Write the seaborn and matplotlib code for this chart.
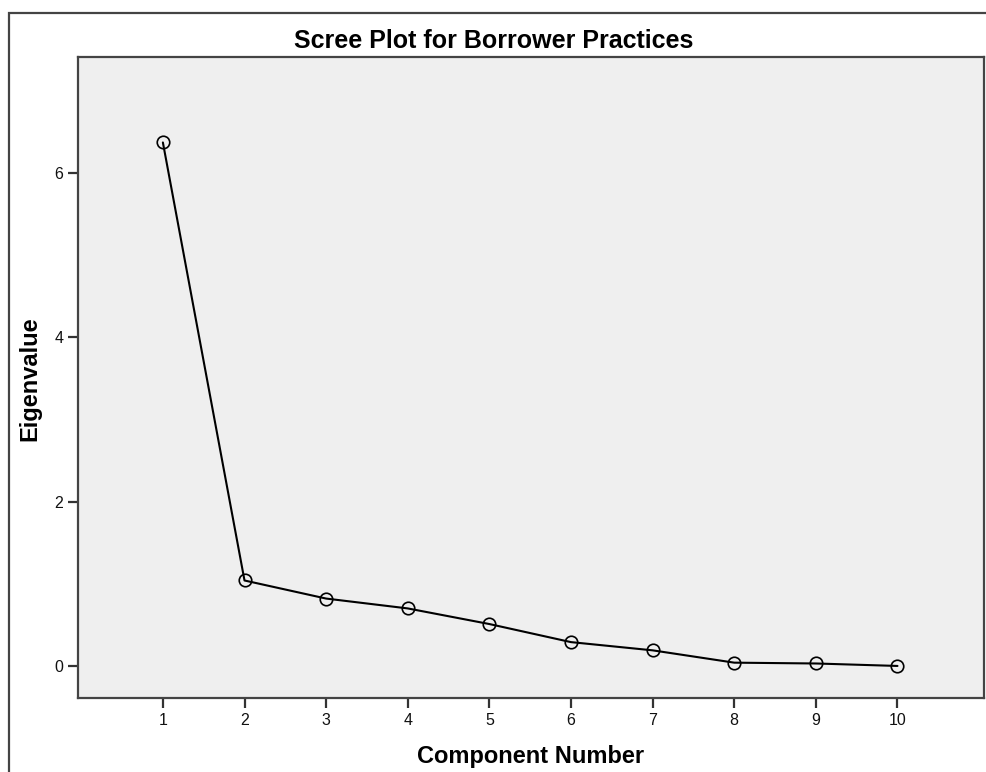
import matplotlib.pyplot as plt
import seaborn as sns
from matplotlib.patches import Rectangle

# Scree plot data
components = [1, 2, 3, 4, 5, 6, 7, 8, 9, 10]
eigenvalues = [6.37, 1.04, 0.82, 0.70, 0.51, 0.29, 0.19, 0.04, 0.03, 0.00]
y_ticks = [0, 2, 4, 6]

sns.set_style("ticks")
plt.rcParams['font.family'] = ['Liberation Sans', 'DejaVu Sans']
plt.rcParams['text.color'] = 'black'

fig = plt.figure(figsize=(9.87, 7.72), dpi=100)

# outer frame (SPSS chart border), runs off the right and bottom edges
fig.patches.append(Rectangle((9 / 987, -0.1), 1.2, 1 - 13 / 772 + 0.1,
                             transform=fig.transFigure, fill=False,
                             edgecolor='#444444', linewidth=1.6))

ax = fig.add_axes([78 / 987, 1 - 698 / 772, (984 - 78) / 987, (698 - 57) / 772])
ax.set_facecolor('#efefef')

sns.lineplot(x=components, y=eigenvalues, ax=ax, color='black', linewidth=1.5,
             marker='o', markersize=9, markerfacecolor='none',
             markeredgecolor='black', markeredgewidth=1.2)

ax.set_xlim(-0.04, 11.06)
ax.set_ylim(-0.39, 7.41)
ax.set_xticks(components)
ax.set_yticks(y_ticks)
ax.tick_params(length=7.5, width=1.6, color='#333333', labelsize=11.5, pad=3,
               labelcolor='#111111')

for side in ['left', 'right', 'top', 'bottom']:
    ax.spines[side].set_visible(True)
    ax.spines[side].set_color('#444444')
    ax.spines[side].set_linewidth(1.6)

fig.text(0.5, 1 - 41 / 772, "Scree Plot for Borrower Practices",
         ha='center', va='center', fontsize=18, fontweight='bold')

ax.set_xlabel("Component Number", fontsize=17, fontweight='bold', color='black')
ax.xaxis.set_label_coords(0.5, -0.092)
ax.xaxis.label.set_va('center')
ax.set_ylabel("Eigenvalue", fontsize=17, fontweight='bold', color='black')
ax.yaxis.set_label_coords(-0.053, 0.498)
ax.yaxis.label.set_va('center')

fig.savefig('out.png', dpi=100)
